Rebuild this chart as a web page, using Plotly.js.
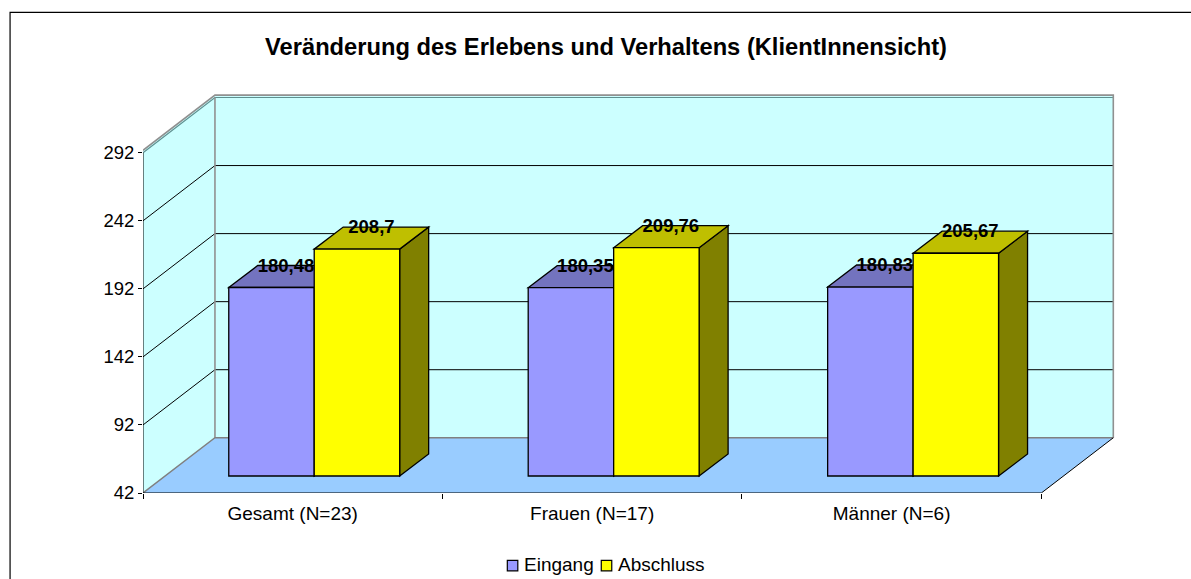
<!DOCTYPE html>
<html>
<head>
<meta charset="utf-8">
<script src="https://cdn.plot.ly/plotly-3.0.1.min.js"></script>
<style>html,body{margin:0;padding:0;background:#fff;overflow:hidden}</style>
</head>
<body>
<div id="chart" style="width:1191px;height:579px"></div>
<script>
const categories = ['Gesamt (N=23)', 'Frauen (N=17)', 'Männer (N=6)'];
const seriesNames = ['Eingang', 'Abschluss'];
const eingang = [180.48, 180.35, 180.83];
const abschluss = [208.7, 209.76, 205.67];
const yTicks = [42, 92, 142, 192, 242, 292];
const chartTitle = 'Veränderung des Erlebens und Verhaltens (KlientInnensicht)';

const W = 1191, H = 579;
const FONT = '"Liberation Sans", Arial, sans-serif';
const m = {l: 142.5, r: 71, t: 90, b: 86.3};
const plotW = W - m.l - m.r, plotH = H - m.t - m.b;
const pxX = 299.6, pxY = 1.36;
const xMax = plotW / pxX, yMin = 42, yMax = yMin + plotH / pxY;

// 3D projection offsets, in axis units
const wallDX = 72 / pxX, wallDY = 55.2 / pxY;
const insetDX = 21.5 / pxX, insetDY = 17 / pxY;
const depthDX = 29 / pxX, depthDY = 22 / pxY;
const barW = 85.5 / pxX;

const poly = pts => 'M' + pts.map(p => p[0] + ',' + p[1]).join('L') + 'Z';
const open = pts => 'M' + pts.map(p => p[0] + ',' + p[1]).join('L');
const shapes = [];
const addPath = (path, fill, lc, lw) => shapes.push({
  type: 'path', xref: 'x', yref: 'y', layer: 'below', path,
  fillcolor: fill || 'rgba(0,0,0,0)', line: {color: lc || 'rgba(0,0,0,0)', width: lw === undefined ? 1 : lw}
});

const topV = yTicks[yTicks.length - 1], nCat = categories.length;
const rimDY = 2.4 / pxY;
// side wall, back wall, floor
addPath(poly([[0, yMin], [wallDX, yMin + wallDY], [wallDX, topV + wallDY + rimDY], [0, topV + rimDY]]), '#CCFFFF');
addPath(poly([[wallDX, yMin + wallDY], [nCat + wallDX, yMin + wallDY], [nCat + wallDX, topV + wallDY + rimDY], [wallDX, topV + wallDY + rimDY]]), '#CCFFFF');
addPath(poly([[0, yMin], [nCat, yMin], [nCat + wallDX, yMin + wallDY], [wallDX, yMin + wallDY]]), '#99CCFF');
// gridlines
yTicks.slice(1, -1).forEach(v => addPath(open([[0, v], [wallDX, v + wallDY], [nCat + wallDX, v + wallDY]]), null, '#000000', 1));
// wall outline
addPath(open([[0, topV], [wallDX, topV + wallDY], [nCat + wallDX, topV + wallDY]]), null, '#5f8f8f', 1.2);
addPath(open([[0, topV + rimDY], [wallDX, topV + wallDY + rimDY], [nCat + wallDX, topV + wallDY + rimDY], [nCat + wallDX, yMin + wallDY]]), null, '#909090', 1.6);
addPath(open([[wallDX, topV + wallDY], [wallDX, yMin + wallDY]]), null, '#909090', 1.6);
addPath(open([[0, yMin], [wallDX, yMin + wallDY], [nCat + wallDX, yMin + wallDY]]), null, '#808080', 1.4);
addPath(open([[nCat + wallDX, yMin + wallDY], [nCat, yMin]]), null, '#000000', 1);
// axis lines
addPath(open([[0, yMin], [0, topV]]), null, '#000000', 1);
addPath(open([[0, yMin], [nCat, yMin]]), null, '#000000', 1.2);

const barX = (i, side) => i + 0.5 + insetDX + side * barW / 2;
const base = yMin + insetDY;
function addFaces(values, side, topCol, sideCol) {
  values.forEach((v, i) => {
    const xl = barX(i, side) - barW / 2, xr = xl + barW, yt = v + insetDY;
    addPath(poly([[xr, base], [xr + depthDX, base + depthDY], [xr + depthDX, yt + depthDY], [xr, yt]]), sideCol, '#000000', 1.3);
    addPath(poly([[xl, yt], [xl + depthDX, yt + depthDY], [xr + depthDX, yt + depthDY], [xr, yt]]), topCol, '#000000', 1.3);
  });
}
addFaces(eingang, -1, '#7373BF', '#4D4D80');
addFaces(abschluss, 1, '#BFBF00', '#808000');

// chart frame and legend, placed in page pixels
const px2x = p => (p - m.l) / plotW, px2y = p => 1 - (p - m.t) / plotH;
shapes.push({type: 'path', xref: 'paper', yref: 'paper', layer: 'above',
  path: 'M' + px2x(9.5) + ',' + px2y(H + 10) + 'L' + px2x(9.5) + ',' + px2y(12.5) + 'L' + px2x(W + 10) + ',' + px2y(12.5),
  line: {color: '#000000', width: 1.2}});

const seriesColors = ['#9999FF', '#FFFF00'];
const legendSwatchX = [507, 601], legendTextX = [524, 618], legendY = 565.5;
const annotations = seriesNames.map((name, k) => {
  shapes.push({type: 'rect', xref: 'paper', yref: 'paper', layer: 'above',
    x0: px2x(legendSwatchX[k]), x1: px2x(legendSwatchX[k] + 10.5),
    y0: px2y(legendY + 5), y1: px2y(legendY - 5.5),
    fillcolor: seriesColors[k], line: {color: '#000000', width: 1.2}});
  return {xref: 'paper', yref: 'paper', x: px2x(legendTextX[k]), y: px2y(legendY - 1), xanchor: 'left', yanchor: 'middle',
    text: name, showarrow: false, font: {family: FONT, size: 19, color: '#000000'}, xshift: -2};
});

const barTrace = (name, values, side, color) => ({
  type: 'bar', name,
  x: values.map((_, i) => barX(i, side)),
  y: values.map(v => v - yMin),
  base: yMin + insetDY, width: barW,
  marker: {color, line: {color: '#000000', width: 1.3}},
  hoverinfo: 'skip', showlegend: false
});
const labelTrace = (values, side) => ({
  type: 'scatter', mode: 'text', showlegend: false, hoverinfo: 'skip',
  x: values.map((_, i) => barX(i, side) + depthDX / 2),
  y: values.map(v => v + insetDY + depthDY - 1.5 / pxY),
  text: values.map(v => String(v).replace('.', ',')),
  textposition: 'middle center',
  textfont: {family: FONT, size: 18.5, color: '#000000', weight: 700},
  cliponaxis: false
});

const data = [
  barTrace(seriesNames[0], eingang, -1, seriesColors[0]),
  barTrace(seriesNames[1], abschluss, 1, seriesColors[1]),
  labelTrace(eingang, -1),
  labelTrace(abschluss, 1)
];

const layout = {
  width: W, height: H, autosize: false,
  margin: {l: m.l, r: m.r, t: m.t, b: m.b, pad: 0},
  paper_bgcolor: '#FFFFFF', plot_bgcolor: 'rgba(0,0,0,0)',
  font: {family: FONT, size: 18, color: '#000000'},
  barmode: 'overlay',
  title: {text: chartTitle, x: 606 / W, xanchor: 'center', y: 1 - 47 / H, yanchor: 'middle',
    font: {family: FONT, size: 23.7, color: '#000000', weight: 700}},
  xaxis: {
    range: [0, xMax], fixedrange: true, showgrid: false, zeroline: false, showline: false,
    tickmode: 'array', tickvals: categories.map((_, i) => i + 0.5), ticktext: categories,
    ticks: '', tickfont: {family: FONT, size: 19, color: '#000000'}, ticklabelstandoff: 7,
    minor: {tickmode: 'array', tickvals: [0, 1, 2, 3], ticks: 'outside', ticklen: 5, tickwidth: 1, tickcolor: '#000000', showgrid: false}
  },
  yaxis: {
    range: [yMin, yMax], fixedrange: true, showgrid: false, zeroline: false, showline: false,
    tickmode: 'array', tickvals: yTicks, ticktext: yTicks.map(String),
    ticks: 'outside', ticklen: 4, tickwidth: 1, tickcolor: '#000000',
    tickfont: {family: FONT, size: 18.5, color: '#000000'}
  },
  shapes, annotations,
  showlegend: false
};
Plotly.newPlot('chart', data, layout, {displayModeBar: false, staticPlot: true});
</script>
</body>
</html>
